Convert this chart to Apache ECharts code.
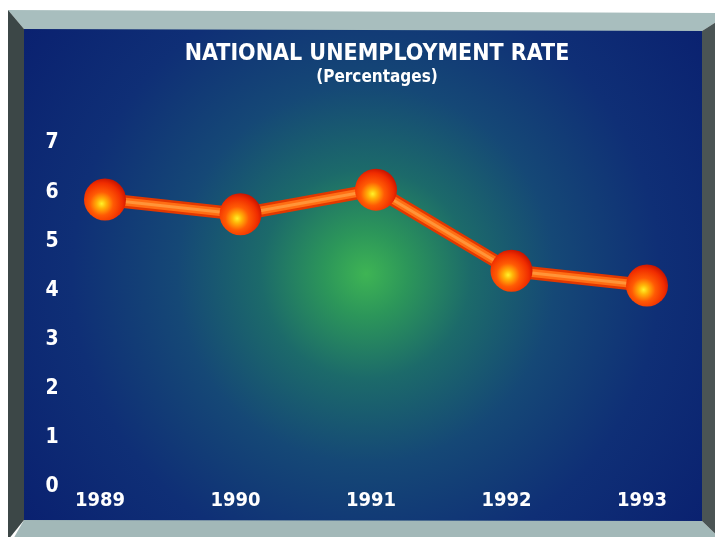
<!DOCTYPE html>
<html>
<head>
<meta charset="utf-8">
<script src="https://cdn.jsdelivr.net/npm/echarts@6/dist/echarts.min.js"></script>
<style>
html,body{margin:0;padding:0;background:#fff;}
#chart{width:715px;height:537px;}
</style>
</head>
<body>
<div id="chart"></div>
<script>
var years = ['1989', '1990', '1991', '1992', '1993'];
var rates = [5.85, 5.55, 6.05, 4.4, 4.1];
var yTicks = [0, 1, 2, 3, 4, 5, 6, 7];

var FONT = '"DejaVu Sans Condensed", "DejaVu Sans", sans-serif';
var chart = echarts.init(document.getElementById('chart'));

var sphere = {
  type: 'radial', x: 0.42, y: 0.6, r: 0.62,
  colorStops: [
    {offset: 0, color: '#fff22a'},
    {offset: 0.18, color: '#ffb408'},
    {offset: 0.45, color: '#ff5a04'},
    {offset: 0.8, color: '#f02c00'},
    {offset: 1, color: '#c81400'}
  ]
};

chart.setOption({
  backgroundColor: '#ffffff',
  animation: false,
  graphic: [
    {type: 'rect', z: -20, silent: true,
     shape: {x: 24, y: 29, width: 678, height: 492},
     style: {fill: {type: 'radial', global: true, x: 366, y: 274, r: 420,
       colorStops: [
         {offset: 0, color: '#3eb454'},
         {offset: 0.1, color: '#2c965a'},
         {offset: 0.25, color: '#1c6a6a'},
         {offset: 0.45, color: '#154876'},
         {offset: 0.7, color: '#0f2f76'},
         {offset: 1, color: '#0a2170'}
       ]}}},
    {type: 'polygon', z: -10, silent: true,
     shape: {points: [[8, 10], [730, 13], [702, 31], [24, 29]]},
     style: {fill: '#a8bebe'}},
    {type: 'polygon', z: -10, silent: true,
     shape: {points: [[24, 520], [702, 521], [730, 548], [8, 548]]},
     style: {fill: '#a2b8b8'}},
    {type: 'polygon', z: -10, silent: true,
     shape: {points: [[8, 10], [24, 29], [24, 520], [8, 540]]},
     style: {fill: '#3c4747'}},
    {type: 'polygon', z: -10, silent: true,
     shape: {points: [[730, 13], [702, 31], [702, 521], [730, 548]]},
     style: {fill: '#4a5454'}}
  ],
  title: {
    text: 'NATIONAL UNEMPLOYMENT RATE',
    subtext: '(Percentages)',
    left: 372, top: 38, textAlign: 'center', itemGap: 3,
    textStyle: {color: '#ffffff', fontFamily: FONT, fontWeight: 'bold', fontSize: 23},
    subtextStyle: {color: '#ffffff', fontFamily: FONT, fontWeight: 'bold', fontSize: 17}
  },
  grid: {left: 105, right: 68, top: 143, bottom: 50},
  xAxis: {
    type: 'category', data: years, boundaryGap: false,
    axisLine: {show: false}, axisTick: {show: false}, splitLine: {show: false},
    axisLabel: {color: '#ffffff', fontFamily: FONT, fontWeight: 'bold', fontSize: 20, margin: 4,
      padding: [0, 10, 0, 0]}
  },
  yAxis: {
    type: 'value', min: yTicks[0], max: yTicks[yTicks.length - 1], interval: 1,
    axisLine: {show: false}, axisTick: {show: false}, splitLine: {show: false},
    axisLabel: {color: '#ffffff', fontFamily: FONT, fontWeight: 'bold', fontSize: 21,
      align: 'center', margin: 53}
  },
  series: [
    {type: 'line', data: rates, symbol: 'none', z: 2,
     lineStyle: {color: '#e23800', width: 13}},
    {type: 'line', data: rates, symbol: 'none', z: 3,
     lineStyle: {color: '#ff6e14', width: 8}},
    {type: 'line', data: rates, symbol: 'none', z: 3,
     lineStyle: {color: '#ff9438', width: 3}},
    {type: 'line', data: rates, z: 4, symbol: 'circle', symbolSize: 42,
     lineStyle: {width: 0, opacity: 0},
     itemStyle: {color: sphere, borderWidth: 0}}
  ]
});
</script>
</body>
</html>
